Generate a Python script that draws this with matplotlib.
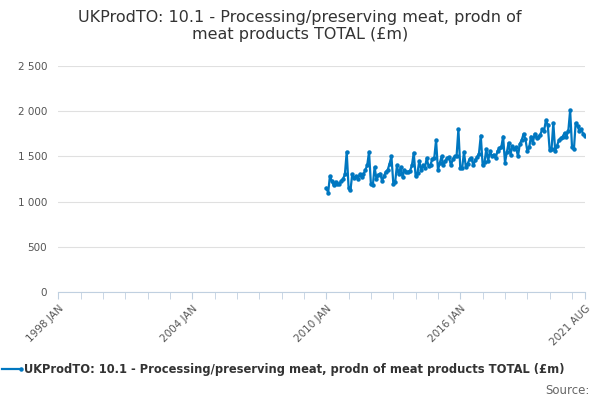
import numpy as np
import pandas as pd
import matplotlib
matplotlib.use("Agg")
import matplotlib.pyplot as plt
import matplotlib.ticker as mticker

# monthly values, Jan 2010 .. Aug 2021 (£m)
y2010 = [1150, 1100, 1280, 1230, 1180, 1220, 1200, 1190, 1230, 1250, 1300, 1550]
y2011 = [1150, 1130, 1300, 1260, 1280, 1250, 1300, 1270, 1300, 1350, 1400, 1550]
y2012 = [1190, 1180, 1380, 1250, 1290, 1310, 1230, 1280, 1330, 1350, 1420, 1500]
y2013 = [1200, 1220, 1400, 1300, 1380, 1270, 1350, 1330, 1330, 1340, 1400, 1540]
y2014 = [1280, 1320, 1450, 1350, 1400, 1370, 1480, 1390, 1410, 1470, 1480, 1680]
y2015 = [1350, 1430, 1500, 1400, 1450, 1480, 1490, 1400, 1470, 1500, 1500, 1800]
y2016 = [1370, 1370, 1550, 1380, 1420, 1470, 1480, 1400, 1460, 1490, 1530, 1730]
y2017 = [1400, 1440, 1580, 1450, 1560, 1500, 1520, 1480, 1560, 1590, 1600, 1720]
y2018 = [1430, 1550, 1650, 1520, 1610, 1580, 1600, 1500, 1640, 1680, 1750, 1690]
y2019 = [1560, 1600, 1720, 1650, 1750, 1700, 1720, 1740, 1800, 1780, 1900, 1850]
y2020 = [1570, 1580, 1870, 1560, 1620, 1680, 1700, 1720, 1760, 1720, 1780, 2010]
y2021 = [1600, 1580, 1870, 1840, 1780, 1800, 1750, 1730]

values = y2010 + y2011 + y2012 + y2013 + y2014 + y2015 + y2016 + y2017 + y2018 + y2019 + y2020 + y2021
dates = pd.date_range("2010-01-01", periods=len(values), freq="MS")

tick_dates = pd.to_datetime(["1998-01-01", "2004-01-01", "2010-01-01", "2016-01-01", "2021-08-01"])
tick_labels = ["1998 JAN", "2004 JAN", "2010 JAN", "2016 JAN", "2021 AUG"]

blue = "#0077c0"

fig = plt.figure(figsize=(6, 4), dpi=100)
ax = fig.add_axes([0.097, 0.27, 0.878, 0.565])
ax.plot(dates, values, color=blue, linewidth=1.6, marker="o", markersize=2.2)

ax.set_xlim(tick_dates[0], tick_dates[-1])
ax.set_ylim(0, 2500)
ax.set_yticks([0, 500, 1000, 1500, 2000, 2500])
ax.yaxis.set_major_formatter(mticker.FuncFormatter(lambda v, _: f"{int(v):,}".replace(",", " ")))
ax.set_xticks(tick_dates)
ax.set_xticklabels(tick_labels, rotation=45, ha="right", rotation_mode="anchor")
ax.set_xticks(pd.date_range("1998-01-01", "2021-08-01", freq="YS"), minor=True)

ax.grid(axis="y", color="#e0e0e0", linewidth=0.8)
for s in ["top", "right", "left"]:
    ax.spines[s].set_visible(False)
ax.spines["bottom"].set_color("#c0d0e0")
ax.tick_params(axis="y", length=0, labelsize=7.5, colors="#555555", pad=8)
ax.tick_params(axis="x", which="both", length=5, color="#c0d0e0", labelsize=7.5, colors="#555555")

fig.text(0.5, 0.975, "UKProdTO: 10.1 - Processing/preserving meat, prodn of\nmeat products TOTAL (£m)",
         ha="center", va="top", fontsize=11.5, color="#333333")

fig.lines.append(plt.Line2D([0.003, 0.035], [0.077, 0.077], transform=fig.transFigure,
                            color=blue, linewidth=1.6, marker="o", markersize=2.2, markevery=[1]))
fig.text(0.04, 0.077, "UKProdTO: 10.1 - Processing/preserving meat, prodn of meat products TOTAL (£m)",
         ha="left", va="center", fontsize=8.3, fontweight="bold", color="#333333")
fig.text(0.982, 0.025, "Source:", ha="right", va="center", fontsize=8.5, color="#666666")

fig.savefig("out.png", dpi=100)
